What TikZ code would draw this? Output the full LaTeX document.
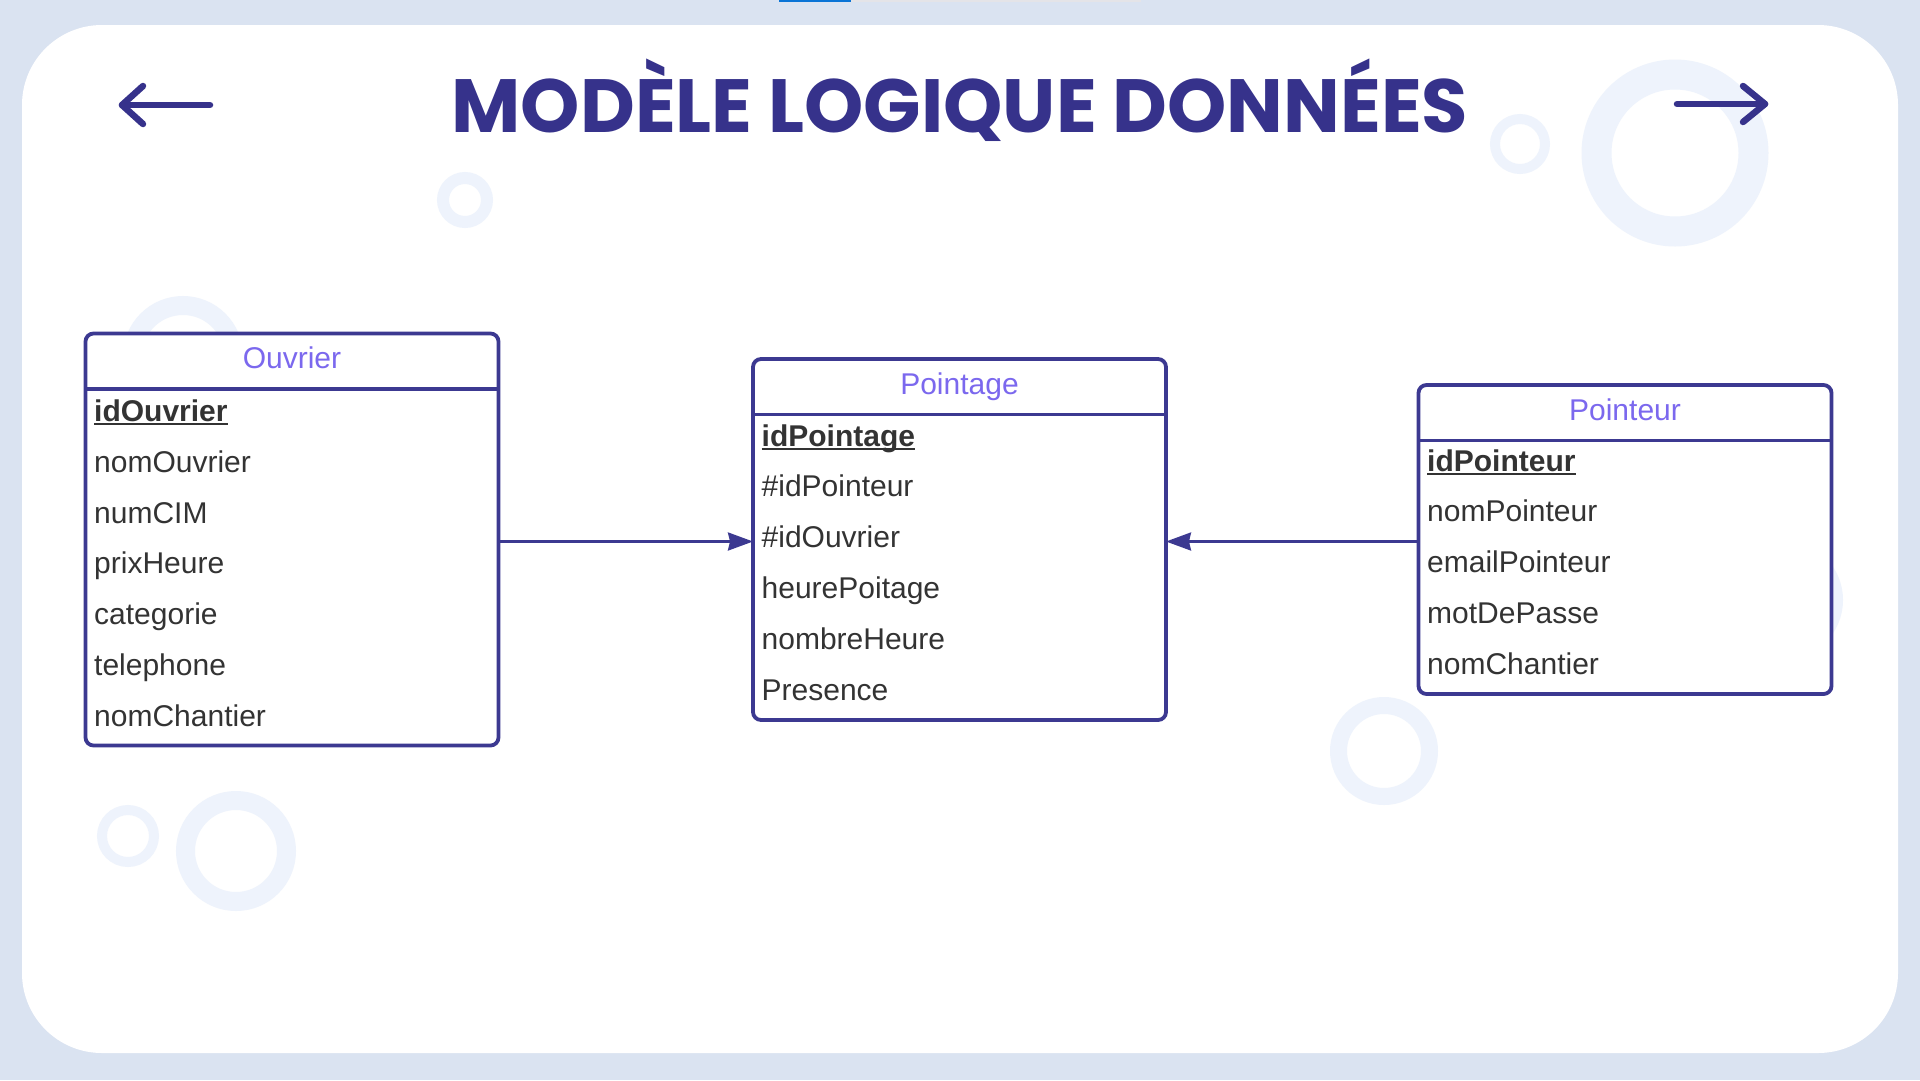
\documentclass[tikz,border=0pt]{standalone}
\usepackage{fontspec}
\setmainfont{Liberation Sans}
\newfontfamily\titlefont{Poppins}
\usetikzlibrary{arrows.meta}
\usetikzlibrary{calc}

\definecolor{pagebg}{RGB}{218,227,241}
\definecolor{ringblue}{RGB}{238,243,252}
\definecolor{navy}{RGB}{54,50,139}
\definecolor{framecol}{RGB}{60,57,145}
\definecolor{headcol}{RGB}{123,104,238}
\definecolor{attrcol}{RGB}{51,51,51}
\definecolor{tabblue}{RGB}{10,116,214}
\definecolor{tabgray}{RGB}{228,228,232}

% underlined primary key
\newcommand{\pkey}[1]{\setbox0\hbox{\bfseries #1}\rlap{\rule[-3.5pt]{\wd0}{2pt}}\box0}

\tikzset{
	entity/.style={draw=framecol, line width=3.8pt, rounded corners=8pt, fill=white, minimum width=413pt, inner sep=0pt, outer sep=0pt},
	header/.style={anchor=base, text=headcol, font=\fontsize{30}{36}\selectfont, inner sep=0pt},
	attr/.style={anchor=base west, text=attrcol, font=\fontsize{30}{36}\selectfont, inner sep=0pt},
	link/.style={draw=framecol, line width=2.5pt, -{Stealth[length=25pt,width=18pt,inset=2pt]}},
	navarrow/.style={draw=navy, line width=6.5pt, line cap=round, line join=round},
	ring/.style={draw=ringblue},
}

\begin{document}
\begin{tikzpicture}[x=1pt,y=-1pt]
	\useasboundingbox (0,0) rectangle (1920,1080);
	
	\fill[pagebg] (0,0) rectangle (1920,1080);
	\fill[tabblue] (779,0) rectangle (851,2);
	\fill[tabgray] (851,0) rectangle (1141,2);
	\fill[white, rounded corners=80pt] (22,25) rectangle (1898,1053);
	
	% decorative rings
	\foreach \cx/\cy/\r/\w in {465/200/22/12, 1520/144/25/10, 1675/153/78.5/30, 183/356/50.5/19, 236/851/50.5/19, 128/836/26/10, 1384/751/45.5/17, 1783/600/50.5/19}{
		\draw[ring, line width=\w pt] (\cx,\cy) circle[radius=\r pt];
	}
	
	\node [anchor=base, text=navy, font=\titlefont\bfseries\fontsize{75.4}{80}\selectfont] at (960,132) (title){MODÈLE LOGIQUE DONNÉES};
	
	\coordinate (back_tip) at (122,105);
	\coordinate (back_tail) at (210,105);
	\coordinate (next_tip) at (1765,104);
	\coordinate (next_tail) at (1677,104);
	\draw [navarrow] (back_tail) -- (back_tip);
	\draw [navarrow] ($(back_tip)+(21,-19)$) -- (back_tip) -- ($(back_tip)+(21,19)$);
	\draw [navarrow] (next_tail) -- (next_tip);
	\draw [navarrow] ($(next_tip)+(-22,-18)$) -- (next_tip) -- ($(next_tip)+(-22,18)$);
	
	\node [entity, minimum height=412pt] at (292, 539.5) (ouvrier){};
	\node [entity, minimum height=361pt] at (959.5, 539.5) (pointage){};
	\node [entity, minimum height=309pt] at (1625, 539.5) (pointeur){};
	
	\foreach \ent/\name in {ouvrier/Ouvrier, pointage/Pointage, pointeur/Pointeur}{
		\node [header] at ($(\ent.north)+(0,35)$) (\ent_title){\name};
		\draw [draw=framecol, line width=3.8pt] ($(\ent.north west)+(0,55.5)$) -- ($(\ent.north east)+(0,55.5)$);
	}
	
	\node [attr] at ($(ouvrier.north west)+(8.5,88)$) (ouvrier_0){\pkey{idOuvrier}};
	\foreach \txt [count=\i] in {nomOuvrier, numCIM, prixHeure, categorie, telephone, nomChantier}{
		\node [attr] at ($(ouvrier.north west)+(8.5,88+50.8*\i)$) (ouvrier_\i){\txt};
	}
	
	\node [attr] at ($(pointage.north west)+(8.5,87)$) (pointage_0){\pkey{idPointage}};
	\foreach \txt [count=\i] in {\#idPointeur, \#idOuvrier, heurePoitage, nombreHeure, Presence}{
		\node [attr] at ($(pointage.north west)+(8.5,87+50.8*\i)$) (pointage_\i){\txt};
	}
	
	\node [attr] at ($(pointeur.north west)+(8.5,86)$) (pointeur_0){\pkey{idPointeur}};
	\foreach \txt [count=\i] in {nomPointeur, emailPointeur, motDePasse, nomChantier}{
		\node [attr] at ($(pointeur.north west)+(8.5,86+50.8*\i)$) (pointeur_\i){\txt};
	}
	
	\draw [link] ([yshift=-2pt]ouvrier.east) -- ([yshift=-2pt]pointage.west);
	\draw [link] ([yshift=-2pt]pointeur.west) -- ([yshift=-2pt]pointage.east);
	
\end{tikzpicture}
\end{document}
